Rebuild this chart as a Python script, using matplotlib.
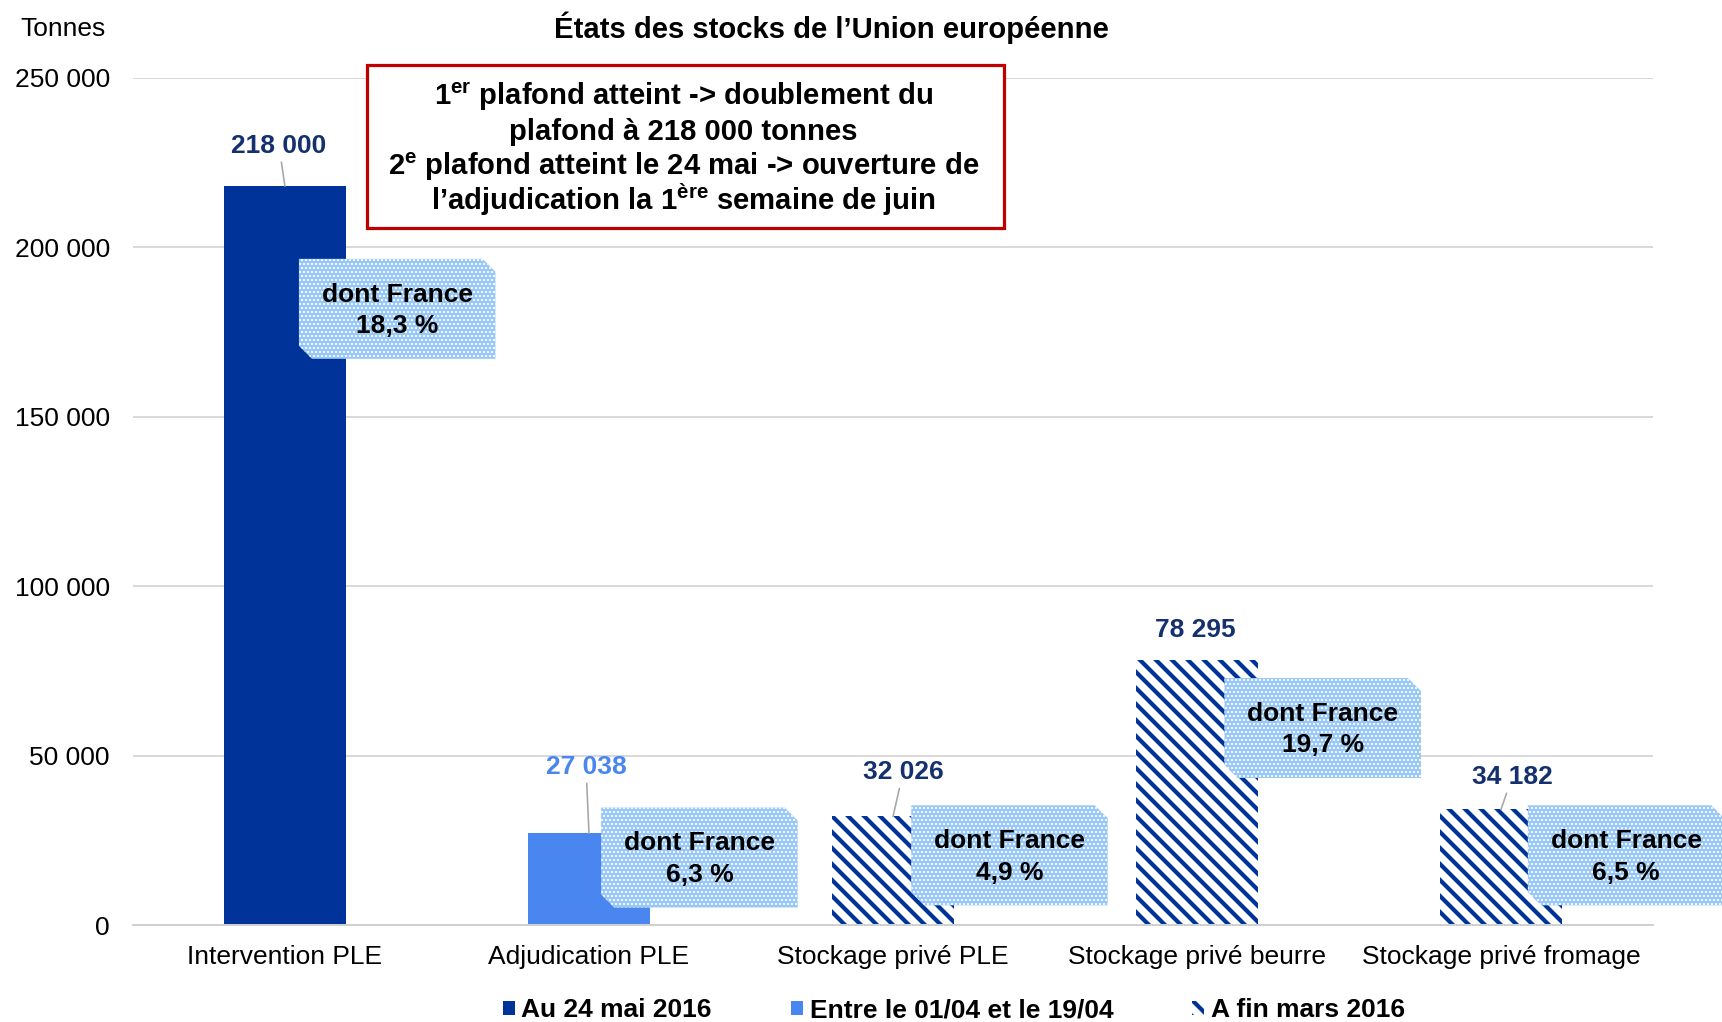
import numpy as np
import matplotlib.pyplot as plt
import matplotlib.transforms as mtransforms
from matplotlib.patches import Patch, Polygon, Rectangle

plt.rcParams['font.family'] = ['Liberation Sans', 'DejaVu Sans']
plt.rcParams['mathtext.fontset'] = 'custom'
plt.rcParams['mathtext.rm'] = 'Liberation Sans:bold'
plt.rcParams['mathtext.bf'] = 'Liberation Sans:bold'
plt.rcParams['mathtext.it'] = 'Liberation Sans:bold'

# Data -------------------------------------------------------------------------
categories = ["Intervention PLE", "Adjudication PLE", "Stockage privé PLE",
              "Stockage privé beurre", "Stockage privé fromage"]
stocks = [218000, 27038, 32026, 78295, 34182]
series = [0, 1, 2, 2, 2]   # which legend entry each bar belongs to
series_names = ["Au 24 mai 2016", "Entre le 01/04 et le 19/04", "A fin mars 2016"]
france_share = ["18,3 %", "6,3 %", "4,9 %", "19,7 %", "6,5 %"]
yticks = [0, 50000, 100000, 150000, 200000, 250000]

title = "États des stocks de l’Union européenne"
note_lines = [r"1$^{\mathrm{er}}$ plafond atteint -> doublement du",
              "plafond à 218 000 tonnes",
              r"2$^{\mathrm{e}}$ plafond atteint le 24 mai -> ouverture de",
              r"l’adjudication la 1$^{\mathrm{ère}}$ semaine de juin"]

# Styles / layout ----------------------------------------------------------------
dark = '#003399'
light = '#4a86f0'
navy_txt = '#14306e'
callout_bg = '#94c5f6'
label_col = [navy_txt, light, navy_txt, navy_txt, navy_txt]
label_off = [(-3, 20), (-1.5, 33), (5, 22), (-1, 15), (5.5, 16)]  # points
has_leader = [True, True, True, False, True]
box_dx = [0.046, 0.040, 0.060, 0.090, 0.088]   # left edge from category centre
box_y = [181800, 19900, 20560, 58130, 20560]    # box centre (tonnes)
STRIPES = '\\\\\\'
STRIPE_LW = 2.1
FS = 13.2


def fmt(v):
    return f"{int(v):,}".replace(",", " ")


dpi = 144
fig = plt.figure(figsize=(1722 / dpi, 1022 / dpi), dpi=dpi)
ax = fig.add_axes([0.0772, 0.0949, 0.8828, 0.8291])

# bars
x = np.arange(len(categories))
for i, v in enumerate(stocks):
    s = series[i]
    if s == 0:
        ax.bar(x[i], v, width=0.4, color=dark, linewidth=0, zorder=2)
    elif s == 1:
        ax.bar(x[i], v, width=0.4, color=light, linewidth=0, zorder=2)
    else:
        plt.rcParams['hatch.linewidth'] = STRIPE_LW
        b = ax.bar(x[i], v, width=0.4, facecolor='white', edgecolor=dark,
                   linewidth=0, hatch=STRIPES, zorder=2)
        for p in b:
            if hasattr(p, 'set_hatch_linewidth'):
                p.set_hatch_linewidth(STRIPE_LW)

ax.set_xlim(-0.5, len(categories) - 0.5)
ax.set_ylim(0, 250000)
ax.set_yticks(yticks)
ax.set_yticklabels([fmt(t) for t in yticks])
ax.set_xticks(x)
ax.set_xticklabels(categories)
ax.tick_params(axis='y', length=0, pad=11.5, labelsize=FS)
ax.tick_params(axis='x', length=0, pad=10, labelsize=FS)
ax.set_axisbelow(True)
ax.yaxis.grid(True, color='#d9d9d9', lw=1)
for sp in ['left', 'right', 'top']:
    ax.spines[sp].set_visible(False)
ax.spines['bottom'].set_color('#d0d0d0')
ax.spines['bottom'].set_linewidth(1)

# value labels with leader lines
for i, v in enumerate(stocks):
    arrow = dict(arrowstyle='-', color='#a6a6a6', lw=0.8, shrinkA=0, shrinkB=0) if has_leader[i] else None
    ax.annotate(fmt(v), xy=(x[i], v), xytext=label_off[i], textcoords='offset points',
                ha='center', va='center', fontsize=FS, fontweight='bold',
                color=label_col[i], arrowprops=arrow, zorder=5)

# "dont France" callouts (snipped corners)
w, h, s = 196.5 / dpi, 100 / dpi, 13 / dpi
verts = [(0, -h / 2 + s), (s, -h / 2), (w, -h / 2), (w, h / 2 - s), (w - s, h / 2), (0, h / 2)]
plt.rcParams['hatch.linewidth'] = 0.8
for i, share in enumerate(france_share):
    tr = fig.dpi_scale_trans + mtransforms.ScaledTranslation(x[i] + box_dx[i], box_y[i], ax.transData)
    poly = Polygon(verts, closed=True, transform=tr, facecolor=callout_bg, edgecolor='white',
                   linewidth=0, hatch='......', clip_on=False, zorder=4)
    if hasattr(poly, 'set_hatch_linewidth'):
        poly.set_hatch_linewidth(0.8)
    ax.add_patch(poly)
    ax.text(w / 2, -1.5 / dpi, "dont France\n" + share, transform=tr, ha='center', va='center',
            fontsize=FS, fontweight='bold', color='black', clip_on=False, zorder=6,
            linespacing=1.4)

# red note box
fig.add_artist(Rectangle((0.2131, 0.7769), 0.370, 0.1595, transform=fig.transFigure,
                         facecolor='white', edgecolor='#c00000', lw=1.6, zorder=6))
for k, line in enumerate(note_lines):
    fig.text(0.397, 0.8973 - k * 0.0343, line, ha='center', va='baseline',
             fontsize=14.6, fontweight='bold', zorder=7)

fig.text(0.4828, 0.973, title, ha='center', va='center', fontsize=14.6, fontweight='bold')
fig.text(0.0116, 0.972, "Tonnes", ha='left', va='center', fontsize=FS)

# legend
plt.rcParams['hatch.linewidth'] = STRIPE_LW
handles = [Patch(facecolor=dark, linewidth=0),
           Patch(facecolor=light, linewidth=0),
           Patch(facecolor='white', edgecolor=dark, linewidth=0, hatch=STRIPES)]
leg = fig.legend(handles, series_names, loc='center', bbox_to_anchor=(0.554, 0.0117),
                 ncol=3, frameon=False, handlelength=0.45, handleheight=0.45,
                 handletextpad=0.25, columnspacing=3.0,
                 prop={'size': FS, 'weight': 'bold'})

fig.savefig('out.png', dpi=dpi)
